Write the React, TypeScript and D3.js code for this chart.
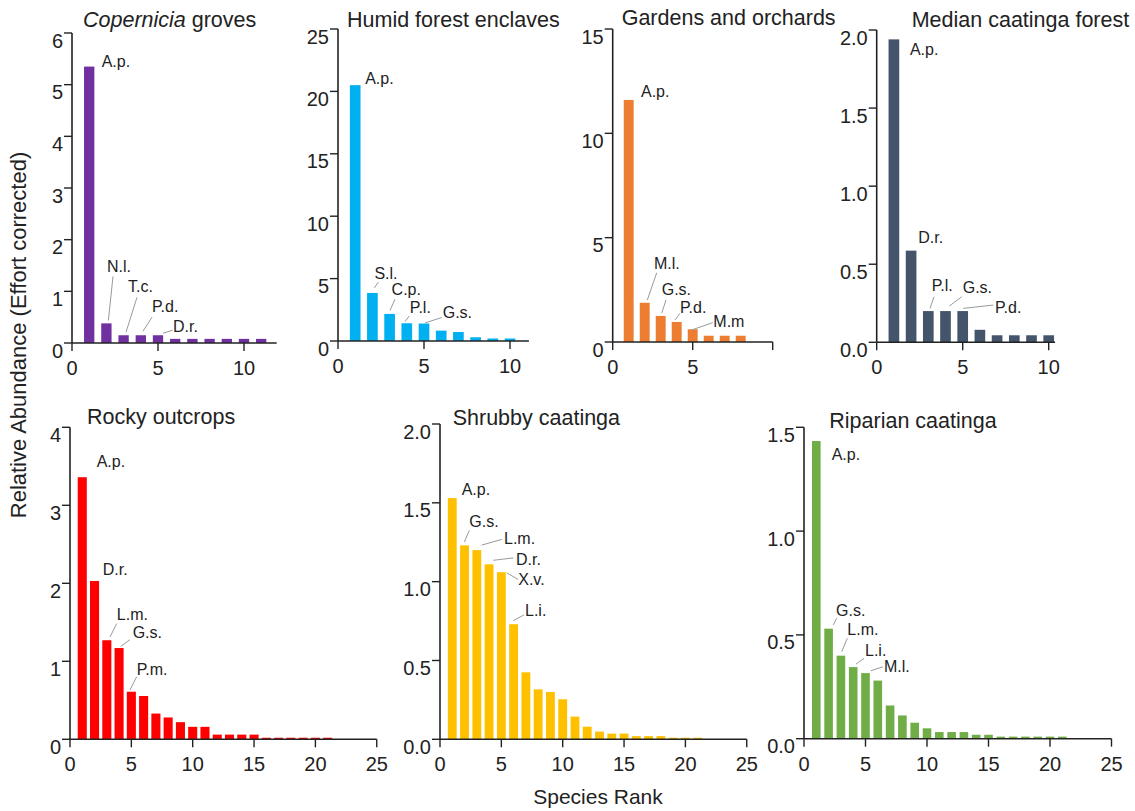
import React from "react";
import * as d3 from "d3";

// relative abundance (effort corrected) by species rank, one array per habitat
const coperniciaValues = [5.35, 0.38, 0.15, 0.15, 0.15, 0.08, 0.08, 0.08, 0.08, 0.08, 0.08];
const humidValues = [20.5, 3.85, 2.17, 1.42, 1.4, 0.83, 0.72, 0.3, 0.2, 0.2];
const gardensValues = [11.6, 1.88, 1.25, 0.96, 0.61, 0.3, 0.3, 0.3];
const medianValues = [1.94, 0.587, 0.2, 0.2, 0.2, 0.08, 0.045, 0.045, 0.045, 0.045];
const rockyValues = [
  3.36, 2.03, 1.27, 1.17, 0.61, 0.555, 0.33, 0.28, 0.22, 0.16, 0.16, 0.06, 0.06, 0.06, 0.06,
  0.02, 0.02, 0.02, 0.02, 0.02, 0.02,
];
const shrubbyValues = [
  1.53, 1.23, 1.2, 1.11, 1.06, 0.73, 0.425, 0.317, 0.3, 0.254, 0.144, 0.08, 0.049, 0.036, 0.036,
  0.02, 0.02, 0.02, 0.01, 0.01, 0.01,
];
const riparianValues = [
  1.434, 0.53, 0.4, 0.345, 0.316, 0.28, 0.16, 0.112, 0.077, 0.05, 0.032, 0.032, 0.032, 0.019,
  0.019, 0.01, 0.01, 0.01, 0.01, 0.01, 0.01,
];

// species abbreviations for the top ranks
const coperniciaLabels = ["A.p.", "N.l.", "T.c.", "P.d.", "D.r."];
const humidLabels = ["A.p.", "S.l.", "C.p.", "P.l.", "G.s."];
const gardensLabels = ["A.p.", "M.l.", "G.s.", "P.d.", "M.m"];
const medianLabels = ["A.p.", "D.r.", "P.l.", "G.s.", "P.d."];
const rockyLabels = ["A.p.", "D.r.", "L.m.", "G.s.", "P.m."];
const shrubbyLabels = ["A.p.", "G.s.", "L.m.", "D.r.", "X.v.", "L.i."];
const riparianLabels = ["A.p.", "G.s.", "L.m.", "L.i.", "M.l."];

const titles = [
  "Copernicia groves",
  "Humid forest enclaves",
  "Gardens and orchards",
  "Median caatinga forest",
  "Rocky outcrops",
  "Shrubby caatinga",
  "Riparian caatinga",
];

const yTickSets = [
  [0, 1, 2, 3, 4, 5, 6],
  [0, 5, 10, 15, 20, 25],
  [0, 5, 10, 15],
  [0, 0.5, 1, 1.5, 2],
  [0, 1, 2, 3, 4],
  [0, 0.5, 1, 1.5, 2],
  [0, 0.5, 1, 1.5],
];
const xTickSets = [
  [0, 5, 10],
  [0, 5, 10],
  [0, 5, 10],
  [0, 5, 10],
  [0, 5, 10, 15, 20, 25],
  [0, 5, 10, 15, 20, 25],
  [0, 5, 10, 15, 20, 25],
];

// label offsets [textDx, textDy, x1, y1, x2, y2] relative to bar top centre (px)
type Off = number[];
const layout: {
  values: number[];
  labels: string[];
  color: string;
  left: number;
  top: number;
  height: number;
  xMax: number;
  pxUnit: number;
  yMax: number;
  decimals: number;
  hideX?: number[];
  barW: number;
  titleX: number;
  titleY: number;
  offs: Off[];
}[] = [
  {
    values: coperniciaValues, labels: coperniciaLabels, color: "#7030a0",
    left: 72, top: 33, height: 310, xMax: 11.9, pxUnit: 17.2, yMax: 6, decimals: 0, barW: 0.6,
    titleX: 83, titleY: 27,
    offs: [[12.5, 0], [0.6, -51, 2, -3, 6.6, -47], [4.4, -43, 2.4, -3, 13.4, -38], [11.2, -23, 2.2, -4, 11.2, -18], [15, -3, 5, -2, 14.5, -5]],
  },
  {
    values: humidValues, labels: humidLabels, color: "#00b0f0",
    left: 338, top: 29, height: 312, xMax: 11.1, pxUnit: 17.2, yMax: 25, decimals: 0, barW: 0.62,
    titleX: 347, titleY: 27,
    offs: [[10, -1], [2, -13.5, 2, -5, 6, -11], [2, -19, 0.4, -3.3, 5.4, -14.7], [3, -10, -1.8, -1.6, 2.5, -7.3], [18.7, -6, 1, -0.6, 17.7, -6]],
  },
  {
    values: gardensValues, labels: gardensLabels, color: "#ed7d31",
    left: 612.7, top: 29, height: 313, xMax: 10, pxUnit: 16, yMax: 15, decimals: 0, hideX: [10], barW: 0.62,
    titleX: 621.7, titleY: 25,
    offs: [[12.3, -3.3], [9.3, -33.4, 2.6, -2.7, 12, -30], [1, -21, 1, -2.7, 5.3, -16], [3.3, -9.3, -1.7, -2, 3.3, -8.7], [20.6, -2.6, -1, 0.7, 20, -6.6]],
  },
  {
    values: medianValues, labels: medianLabels, color: "#44546a",
    left: 876.7, top: 30, height: 312.3, xMax: 10.37, pxUnit: 17.2, yMax: 2, decimals: 1, barW: 0.62,
    titleX: 911.7, titleY: 26.7,
    offs: [[16, 16], [7.2, -8], [3.4, -20, 1.7, -2.7, 5.7, -14.3], [17.2, -17.7, 3.8, -5, 16.2, -14.3], [32.3, 2.3, 0.6, -2.7, 30.6, -6]],
  },
  {
    values: rockyValues, labels: rockyLabels, color: "#ff0000",
    left: 70, top: 427.3, height: 312, xMax: 25, pxUnit: 12.27, yMax: 4, decimals: 0, barW: 0.74,
    titleX: 87, titleY: 424,
    offs: [[14.4, -10], [8.2, -5.7], [10, -20.7, 3.2, -3.3, 9.9, -16.7], [13.6, -10, 1.6, -1.6, 10.9, -8.3], [5.3, -16.7, -1.4, -1.7, 5.3, -15]],
  },
  {
    values: shrubbyValues, labels: shrubbyLabels, color: "#ffc000",
    left: 440, top: 424, height: 315.3, xMax: 25, pxUnit: 12.27, yMax: 2, decimals: 1, barW: 0.72,
    titleX: 452.7, titleY: 425,
    offs: [[9.4, -3.3], [4.8, -18.3, -0.2, -3.3, 4.8, -15], [27.2, -6, 4.9, -5, 24.9, -10.7], [26.9, 0.3, 4.2, -4, 24.2, -6.4], [16.9, 13.3, 5.3, 0.6, 16.9, 7.3], [11.4, -8.3, -0.3, -3.6, 10.4, -9.3]],
  },
  {
    values: riparianValues, labels: riparianLabels, color: "#70ad47",
    left: 804, top: 427.3, height: 311.4, xMax: 25, pxUnit: 12.3, yMax: 1.5, decimals: 1, barW: 0.7,
    titleX: 829.3, titleY: 428,
    offs: [[15.4, 19], [7.4, -12.7, 4.7, -3.7, 8.1, -10.4], [6.4, -20.7, 0.8, -4, 6.4, -17.4], [11.8, -11, 2.8, -3, 10.8, -8.7], [18.5, -1.3, 5.2, -2.3, 17.2, -6.3]],
  },
];

const FONT = "'Liberation Sans', Arial, Helvetica, sans-serif";
const AXIS = "#222";

function Panel({ idx }: { idx: number }) {
  const p = layout[idx];
  const width = p.xMax * p.pxUnit;
  const x = d3.scaleLinear().domain([0, p.xMax]).range([p.left, p.left + width]);
  const y = d3.scaleLinear().domain([0, p.yMax]).range([p.top + p.height, p.top]);
  const fmt = d3.format(p.decimals ? ".1f" : "d");
  const y0 = y(0);
  const bw = x(p.barW) - x(0);
  const title = titles[idx];

  return (
    <g>
      {p.values.map((v, i) => (
        <rect
          key={i}
          x={x(i + 1) - bw / 2}
          y={y(v)}
          width={bw}
          height={y0 - y(v)}
          fill={p.color}
        />
      ))}
      {p.labels.map((name, i) => {
        const o = p.offs[i];
        const cx = x(i + 1);
        const ty = y(p.values[i]);
        return (
          <g key={name + i}>
            {o.length > 2 && (
              <line
                x1={cx + o[2]}
                y1={ty + o[3]}
                x2={cx + o[4]}
                y2={ty + o[5]}
                stroke="#9a9a9a"
                strokeWidth={1}
              />
            )}
            <text x={cx + o[0]} y={ty + o[1]} fontSize={16} fill="#222" fontFamily={FONT}>
              {name}
            </text>
          </g>
        );
      })}
      {/* y axis */}
      <line x1={p.left} x2={p.left} y1={y(p.yMax)} y2={y0} stroke={AXIS} strokeWidth={1.6} />
      {yTickSets[idx].map((t) => (
        <g key={"y" + t}>
          <line x1={p.left - 8} x2={p.left} y1={y(t)} y2={y(t)} stroke={AXIS} strokeWidth={1.4} />
          <text
            x={p.left - 9}
            y={y(t) + 14.5}
            textAnchor="end"
            fontSize={20}
            fill="#222"
            fontFamily={FONT}
          >
            {fmt(t)}
          </text>
        </g>
      ))}
      {/* x axis */}
      <line x1={p.left} x2={p.left + width} y1={y0} y2={y0} stroke={AXIS} strokeWidth={1.6} />
      {xTickSets[idx].map((t) => (
        <g key={"x" + t}>
          <line x1={x(t)} x2={x(t)} y1={y0} y2={y0 + 8} stroke={AXIS} strokeWidth={1.4} />
          {!(p.hideX || []).includes(t) && (
            <text
              x={x(t)}
              y={y0 + 32}
              textAnchor="middle"
              fontSize={20}
              fill="#222"
              fontFamily={FONT}
            >
              {t}
            </text>
          )}
        </g>
      ))}
      <text x={p.titleX} y={p.titleY} fontSize={21.5} fill="#222" fontFamily={FONT}>
        {idx === 0 ? (
          <>
            <tspan fontStyle="italic">Copernicia</tspan>
            <tspan> groves</tspan>
          </>
        ) : (
          title
        )}
      </text>
    </g>
  );
}

export default function App() {
  return (
    <svg
      width={1135}
      height={811}
      style={{ position: "absolute", left: 0, top: 0, background: "#fff" }}
    >
      <rect width={1135} height={811} fill="#fff" />
      {layout.map((_, i) => (
        <Panel key={i} idx={i} />
      ))}
      <text
        transform="translate(26,335) rotate(-90)"
        textAnchor="middle"
        fontSize={22}
        fill="#222"
        fontFamily={FONT}
      >
        Relative Abundance (Effort corrected)
      </text>
      <text x={598} y={804} textAnchor="middle" fontSize={21} fill="#222" fontFamily={FONT}>
        Species Rank
      </text>
    </svg>
  );
}
